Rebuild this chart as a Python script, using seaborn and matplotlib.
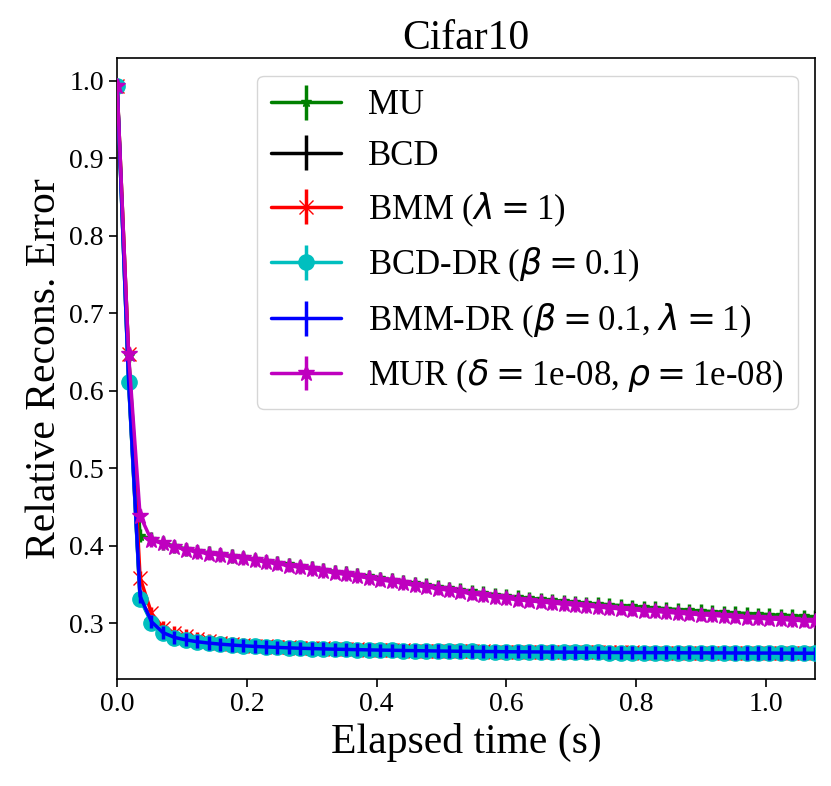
import matplotlib
matplotlib.use("Agg")
import matplotlib.pyplot as plt
import seaborn as sns

# elapsed time (s) per iteration
time_s = [0.0, 0.0176, 0.0353, 0.0529, 0.0706, 0.0882, 0.1058, 0.1235, 0.1411, 0.1588,
          0.1764, 0.1940, 0.2117, 0.2293, 0.2470, 0.2646, 0.2822, 0.2999, 0.3175, 0.3352,
          0.3528, 0.3704, 0.3881, 0.4057, 0.4234, 0.4410, 0.4586, 0.4763, 0.4939, 0.5116,
          0.5292, 0.5468, 0.5645, 0.5821, 0.5998, 0.6174, 0.6350, 0.6527, 0.6703, 0.6880,
          0.7056, 0.7232, 0.7409, 0.7585, 0.7762, 0.7938, 0.8114, 0.8291, 0.8467, 0.8644,
          0.8820, 0.8996, 0.9173, 0.9349, 0.9526, 0.9702, 0.9878, 1.0055, 1.0231, 1.0408,
          1.0584, 1.0760]

err_mu = [0.993, 0.645, 0.413, 0.409, 0.4035, 0.3995, 0.3957, 0.3928, 0.3908, 0.3889,
          0.3869, 0.385, 0.3826, 0.3802, 0.378, 0.3759, 0.3735, 0.3716, 0.3692, 0.3668,
          0.3649, 0.3625, 0.3606, 0.3582, 0.3563, 0.3539, 0.3515, 0.3496, 0.3474, 0.3452,
          0.3433, 0.3411, 0.339, 0.3371, 0.3352, 0.3338, 0.3323, 0.331, 0.3297, 0.3284,
          0.3272, 0.326, 0.3249, 0.3238, 0.3227, 0.3217, 0.3207, 0.3197, 0.3187, 0.3177,
          0.3168, 0.3159, 0.315, 0.3142, 0.3134, 0.3126, 0.3118, 0.3111, 0.3104, 0.3097,
          0.309, 0.3083]

err_bcd = [0.993, 0.612, 0.333, 0.3015, 0.2877, 0.2816, 0.2785, 0.2761, 0.2744, 0.2730,
           0.2719, 0.2709, 0.2701, 0.2694, 0.2688, 0.2682, 0.2677, 0.2673, 0.2669, 0.2665,
           0.2662, 0.2659, 0.2656, 0.2653, 0.2651, 0.2648, 0.2646, 0.2644, 0.2642, 0.2640,
           0.2638, 0.2637, 0.2635, 0.2634, 0.2632, 0.2631, 0.2630, 0.2629, 0.2628, 0.2627,
           0.2626, 0.2625, 0.2624, 0.2623, 0.2622, 0.2622, 0.2621, 0.2620, 0.2620, 0.2619,
           0.2618, 0.2618, 0.2617, 0.2617, 0.2616, 0.2616, 0.2615, 0.2615, 0.2614, 0.2614,
           0.2613, 0.2613]

err_bmm = [0.993, 0.648, 0.359, 0.313, 0.2945, 0.2875, 0.2835, 0.2800, 0.2775, 0.2752,
           0.2735, 0.2723, 0.2713, 0.2705, 0.2698, 0.2691, 0.2685, 0.2680, 0.2675, 0.2670,
           0.2666, 0.2662, 0.2659, 0.2656, 0.2653, 0.2650, 0.2648, 0.2646, 0.2643, 0.2641,
           0.2640, 0.2639, 0.2637, 0.2636, 0.2634, 0.2633, 0.2632, 0.2631, 0.2630, 0.2629,
           0.2628, 0.2627, 0.2626, 0.2625, 0.2624, 0.2624, 0.2623, 0.2622, 0.2622, 0.2621,
           0.2620, 0.2620, 0.2619, 0.2619, 0.2618, 0.2618, 0.2617, 0.2617, 0.2616, 0.2616,
           0.2615, 0.2615]

err_bcd_dr = [0.993, 0.611, 0.331, 0.301, 0.2875, 0.2815, 0.2784, 0.2760, 0.2743, 0.2730,
              0.2719, 0.2709, 0.2701, 0.2694, 0.2688, 0.2682, 0.2677, 0.2673, 0.2669, 0.2665,
              0.2662, 0.2659, 0.2656, 0.2653, 0.2651, 0.2648, 0.2646, 0.2644, 0.2642, 0.2640,
              0.2638, 0.2637, 0.2635, 0.2634, 0.2632, 0.2631, 0.2630, 0.2629, 0.2628, 0.2627,
              0.2626, 0.2625, 0.2624, 0.2623, 0.2622, 0.2622, 0.2621, 0.2620, 0.2620, 0.2619,
              0.2618, 0.2618, 0.2617, 0.2617, 0.2616, 0.2616, 0.2615, 0.2615, 0.2614, 0.2614,
              0.2613, 0.2613]

err_bmm_dr = [0.993, 0.614, 0.335, 0.302, 0.2880, 0.2818, 0.2786, 0.2762, 0.2745, 0.2731,
              0.2720, 0.2710, 0.2702, 0.2695, 0.2689, 0.2683, 0.2678, 0.2674, 0.2670, 0.2666,
              0.2663, 0.2660, 0.2657, 0.2654, 0.2652, 0.2649, 0.2647, 0.2645, 0.2643, 0.2641,
              0.2639, 0.2638, 0.2636, 0.2635, 0.2633, 0.2632, 0.2631, 0.2630, 0.2629, 0.2628,
              0.2627, 0.2626, 0.2625, 0.2624, 0.2623, 0.2623, 0.2622, 0.2621, 0.2621, 0.2620,
              0.2619, 0.2619, 0.2618, 0.2618, 0.2617, 0.2617, 0.2616, 0.2616, 0.2615, 0.2615,
              0.2614, 0.2614]

err_mur = [0.993, 0.647, 0.439, 0.407, 0.403, 0.399, 0.395, 0.392, 0.390, 0.388,
           0.386, 0.384, 0.3815, 0.379, 0.3767, 0.3745, 0.372, 0.370, 0.3675, 0.365,
           0.363, 0.3605, 0.3585, 0.356, 0.354, 0.3515, 0.349, 0.347, 0.3448, 0.3425,
           0.3405, 0.3382, 0.336, 0.334, 0.332, 0.3305, 0.329, 0.3276, 0.3262, 0.3248,
           0.3235, 0.3222, 0.321, 0.3198, 0.3186, 0.3175, 0.3164, 0.3153, 0.3142, 0.3131,
           0.3121, 0.3111, 0.3101, 0.3092, 0.3083, 0.3074, 0.3065, 0.3057, 0.3049, 0.3041,
           0.3033, 0.3025]

# std over runs (roughly constant)
std = 0.0085

labels = ['MU', 'BCD', r'BMM ($\lambda = $1)', r'BCD-DR ($\beta = $0.1)',
          r'BMM-DR ($\beta = $0.1, $\lambda = $1)', r'MUR ($\delta = $1e-08, $\rho = $1e-08)']
series = [err_mu, err_bcd, err_bmm, err_bcd_dr, err_bmm_dr, err_mur]
colors = ['g', 'k', 'r', 'c', 'b', 'm']
markers = ['*', '', 'x', 'o', '', '*']
msizes = [7, 0, 10, 11, 0, 12]

sns.set_style('ticks')
plt.rcParams['font.family'] = ['Liberation Serif', 'DejaVu Serif']
plt.rcParams['mathtext.fontset'] = 'dejavusans'
plt.rcParams['text.color'] = 'black'
plt.rcParams['axes.labelcolor'] = 'black'
plt.rcParams['axes.edgecolor'] = 'black'
plt.rcParams['xtick.color'] = 'black'
plt.rcParams['ytick.color'] = 'black'

fig, ax = plt.subplots(figsize=(8.31, 7.86), dpi=100)
fig.subplots_adjust(left=0.141, right=0.981, top=0.926, bottom=0.136)

# each series stacked above the previous one (bars included)
for k, (y, lab, c, m, ms) in enumerate(zip(series, labels, colors, markers, msizes)):
    ax.errorbar(time_s, y, yerr=std, color=c, marker=m, markersize=ms,
                linewidth=2.5, label=lab, zorder=2 + k * 0.5)

ax.set_xlim(0, 1.076)
ax.set_ylim(0.228, 1.029)
ax.set_title('Cifar10', fontsize=30)
ax.set_xlabel('Elapsed time (s)', fontsize=30)
ax.set_ylabel('Relative Recons. Error', fontsize=30)
ax.tick_params(labelsize=20, width=1.2, length=6)
for s in ax.spines.values():
    s.set_linewidth(1.2)
ax.legend(loc='upper right', fontsize=25)

plt.savefig('out.png', dpi=100)
